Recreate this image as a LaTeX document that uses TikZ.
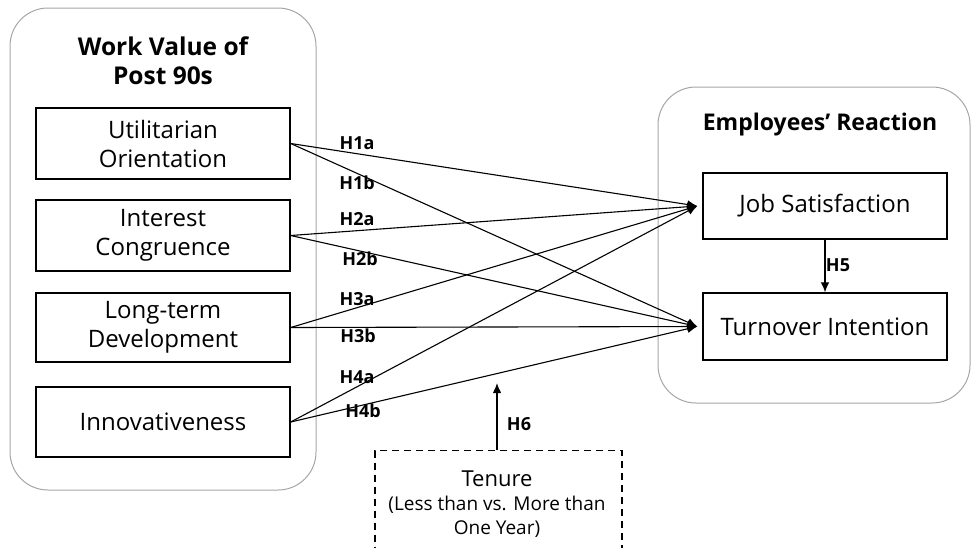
\documentclass[tikz,border=0pt]{standalone}
\usepackage{fontspec}
\setmainfont{Open Sans}
\usetikzlibrary{arrows.meta}
\definecolor{groupgray}{HTML}{A6A6A6}
\tikzset{
  group/.style={draw=groupgray, line width=1pt, rounded corners=38pt},
  var/.style={draw=black, line width=1.4pt, minimum width=254pt, align=center, font=\fontsize{24}{29}\selectfont, inner sep=0pt},
  title/.style={align=center, font=\fontsize{23}{29}\selectfont\bfseries},
  hyp/.style={font=\fontsize{18}{20}\selectfont\bfseries, inner sep=1pt},
  path/.style={line width=1.1pt, -{Latex[length=10pt,width=8.5pt]}},
}
\begin{document}
\begin{tikzpicture}[x=1pt,y=-1pt]
\useasboundingbox (0,0) rectangle (971,547);
\clip (0,0) rectangle (971,547);
% groups
\draw[group] (10,8) rectangle (316,490);
\draw[group] (658,87) rectangle (970,403);
\node[title, font=\fontsize{24.5}{29}\selectfont\bfseries] (lefttitle) at (163,61) {Work Value of\\Post 90s};
\node[title] (righttitle) at (820,125) {Employees’ Reaction};
% left variables
\node[var, minimum height=71pt] (uo) at (163,143.5) {Utilitarian\\Orientation};
\node[var, minimum height=71pt] (ic) at (163,235.5) {Interest\\Congruence};
\node[var, minimum height=69pt] (ld) at (163,327.5) {Long-term\\Development};
\node[var, minimum height=70pt] (in) at (163,422) {Innovativeness};
% right variables
\node[var, minimum width=244pt, minimum height=66pt] (js) at (825,206) {Job Satisfaction};
\node[var, minimum width=244pt, minimum height=67pt] (ti) at (825,326.5) {Turnover Intention};
% tenure
\node[draw, dash pattern=on 7pt off 5pt, line width=1.1pt, minimum width=247pt, minimum height=130pt, anchor=north, align=center, inner sep=0pt] (ten) at (498.5,450) {};
\node[align=center, font=\fontsize{22}{24}\selectfont, anchor=north] (tentext) at (497,467) {Tenure\\{\fontsize{19}{23}\selectfont (Less than vs. More than}\\{\fontsize{19}{23}\selectfont One Year)}};
\coordinate (mod) at (497,383);
% paths
\draw[path] (uo.east) -- ([xshift=-5pt]js.west);
\draw[path] (uo.east) -- ([xshift=-5pt]ti.west);
\draw[path] (ic.east) -- ([xshift=-5pt]js.west);
\draw[path] (ic.east) -- ([xshift=-5pt]ti.west);
\draw[path] (ld.east) -- ([xshift=-5pt]js.west);
\draw[path] (ld.east) -- ([xshift=-5pt]ti.west);
\draw[path] (in.east) -- ([xshift=-5pt]js.west);
\draw[path] (in.east) -- ([xshift=-5pt]ti.west);
\draw[path] (js.south) -- (ti.north);
\draw[path] ([xshift=-1.5pt]ten.north) -- (mod);
% labels
\node[hyp] (h1a) at (357,143) {H1a};
\node[hyp] (h1b) at (357,183) {H1b};
\node[hyp] (h2a) at (357,219) {H2a};
\node[hyp] (h2b) at (360,259) {H2b};
\node[hyp] (h3a) at (357,299) {H3a};
\node[hyp] (h3b) at (358,336) {H3b};
\node[hyp] (h4a) at (357,377) {H4a};
\node[hyp] (h4b) at (363,411) {H4b};
\node[hyp] (h5) at (838,265) {H5};
\node[hyp] (h6) at (519,424) {H6};
\end{tikzpicture}
\end{document}
